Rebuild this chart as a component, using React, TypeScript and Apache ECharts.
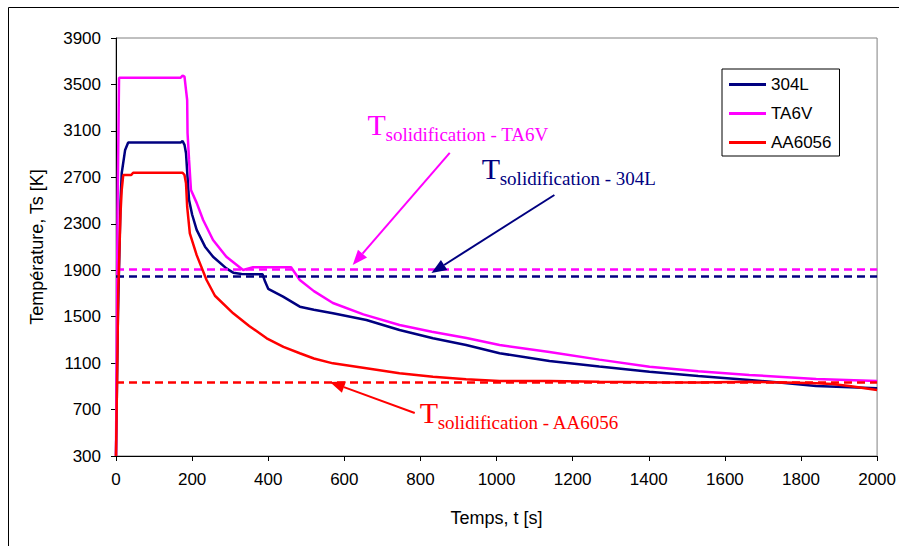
import React, { useEffect, useRef } from "react";
import * as echarts from "echarts";

// ---- Data ----
const time304L = [0, 5, 12, 15, 24, 32, 170, 175, 180, 184, 188, 192, 200, 212, 234, 255, 290, 308, 330, 385, 392, 400, 439, 483, 520, 570, 658, 745, 833, 920, 1008, 1139, 1270, 1402, 1530, 1664, 1750, 1840, 2000];
const temp304L = [300, 1500, 2500, 2735, 2936, 3000, 3000, 3012, 2980, 2907, 2700, 2505, 2380, 2247, 2103, 2016, 1916, 1879, 1868, 1865, 1800, 1740, 1672, 1586, 1560, 1529, 1471, 1385, 1314, 1256, 1185, 1118, 1070, 1026, 990, 955, 930, 903, 883];

const timeTA6V = [0, 4, 8, 170, 175, 180, 184, 187, 188, 192, 197, 212, 229, 255, 290, 334, 360, 460, 483, 520, 570, 650, 745, 830, 921, 1008, 1139, 1270, 1402, 1530, 1664, 1840, 2000];
const tempTA6V = [300, 2400, 3558, 3558, 3575, 3567, 3452, 3366, 3082, 2850, 2591, 2480, 2333, 2160, 2016, 1902, 1925, 1925, 1816, 1720, 1618, 1520, 1428, 1370, 1316, 1256, 1196, 1130, 1069, 1030, 998, 963, 946];

const timeAA6056 = [0, 3, 6, 12, 15, 19, 40, 45, 175, 180, 184, 187, 194, 212, 238, 260, 308, 350, 396, 440, 483, 520, 570, 658, 745, 833, 920, 1008, 1139, 1270, 1402, 1530, 1664, 1840, 1882, 1927, 2000];
const tempAA6056 = [300, 1000, 1730, 2400, 2590, 2720, 2720, 2740, 2740, 2720, 2648, 2447, 2218, 2030, 1816, 1680, 1529, 1420, 1314, 1240, 1185, 1140, 1098, 1055, 1012, 983, 960, 946, 946, 940, 935, 933, 940, 926, 920, 903, 868];

const seriesNames = ["304L", "TA6V", "AA6056"];
const solidusTemps = [1850, 1910, 935];
const annotationLabels = ["solidification - 304L", "solidification - TA6V", "solidification - AA6056"];
// annotation anchors in data coordinates: text anchor, arrow start, arrow end
const annotationText = [[961, 2651], [661, 3030], [798, 547]];
const arrowFrom = [[1152, 2548], [877, 2910], [785, 670]];
const arrowTo = [[829, 1876], [622, 1945], [562, 937]];

const colors = ["#000080", "#FF00FF", "#FF0000"];

const pairs = (t: number[], v: number[]) => t.map((x, i) => [x, v[i]]);
const allTimes = [time304L, timeTA6V, timeAA6056];
const allTemps = [temp304L, tempTA6V, tempAA6056];

export default function App() {
  const ref = useRef<HTMLDivElement>(null);
  useEffect(() => {
    if (!ref.current) return;
    const chart = echarts.init(ref.current, null, { renderer: "svg" });
    const sans = '"Liberation Sans", Arial, sans-serif';
    const plain = (v: number) => String(v);
    chart.setOption({
      animation: false,
      backgroundColor: "#fff",
      grid: {
        left: 116,
        right: 21,
        top: 38,
        bottom: 90,
        show: true,
        borderColor: "#808080",
        borderWidth: 1,
        backgroundColor: "transparent",
      },
      legend: {
        data: seriesNames,
        orient: "vertical",
        left: 722,
        top: 69,
        padding: [7, 8, 5, 7],
        itemGap: 12,
        itemWidth: 37,
        itemHeight: 3,
        icon: "rect",
        borderColor: "#000",
        borderWidth: 1,
        backgroundColor: "#fff",
        textStyle: { fontFamily: sans, fontSize: 17, color: "#000", padding: [0, 0, 0, 0] },
      },
      xAxis: {
        type: "value",
        min: 0,
        max: 2000,
        interval: 200,
        name: "Temps, t [s]",
        nameLocation: "middle",
        nameGap: 53,
        nameTextStyle: { fontFamily: sans, fontSize: 18, color: "#000" },
        axisLine: { lineStyle: { color: "#000", width: 1 } },
        axisTick: { show: true, length: 5, lineStyle: { color: "#000" } },
        axisLabel: { fontFamily: sans, fontSize: 17, color: "#000", margin: 15, formatter: plain },
        splitLine: { show: false },
      },
      yAxis: {
        type: "value",
        min: 300,
        max: 3900,
        interval: 400,
        name: "Température, Ts [K]",
        nameLocation: "middle",
        nameGap: 70,
        nameTextStyle: { fontFamily: sans, fontSize: 18, color: "#000" },
        axisLine: { show: true, lineStyle: { color: "#000", width: 1 } },
        axisTick: { show: true, length: 5, lineStyle: { color: "#000" } },
        axisLabel: { fontFamily: sans, fontSize: 17, color: "#000", margin: 15, formatter: plain },
        splitLine: { show: false },
      },
      series: seriesNames.map((name, i) => ({
        name,
        type: "line",
        data: pairs(allTimes[i], allTemps[i]),
        showSymbol: false,
        symbol: "none",
        color: colors[i],
        lineStyle: { color: colors[i], width: 2.5 },
        z: 3 + i,
        markLine: {
          silent: true,
          symbol: ["none", "none"],
          label: { show: false },
          lineStyle: { color: colors[i], type: [8, 5], width: 2.5 },
          data: [{ yAxis: solidusTemps[i] }],
        },
      })),
    });

    const toPx = (p: number[]) => chart.convertToPixel({ gridIndex: 0 }, p) as number[];
    const graphics: any[] = [
      {
        type: "rect",
        shape: { x: 8.5, y: 7.5, width: 900, height: 560 },
        style: { fill: "none", stroke: "#000", lineWidth: 1 },
        silent: true,
        z: 0,
      },
    ];
    const headLen = 15;
    const headHalf = 6;
    seriesNames.forEach((_, i) => {
      const c = colors[i];
      const a = toPx(arrowFrom[i]);
      const b = toPx(arrowTo[i]);
      const dx = b[0] - a[0];
      const dy = b[1] - a[1];
      const len = Math.sqrt(dx * dx + dy * dy);
      const ux = dx / len;
      const uy = dy / len;
      const bx = b[0] - ux * headLen;
      const by = b[1] - uy * headLen;
      graphics.push({
        type: "line",
        shape: { x1: a[0], y1: a[1], x2: bx, y2: by },
        style: { stroke: c, lineWidth: 2 },
        z: 100,
      });
      graphics.push({
        type: "polygon",
        shape: {
          points: [
            [b[0], b[1]],
            [bx - uy * headHalf, by + ux * headHalf],
            [bx + uy * headHalf, by - ux * headHalf],
          ],
        },
        style: { fill: c },
        z: 100,
      });
      const t = toPx(annotationText[i]);
      graphics.push({
        type: "text",
        x: t[0],
        y: t[1],
        style: {
          text: "T",
          fill: c,
          font: '30px "Liberation Serif", "Times New Roman", serif',
          align: "left",
          verticalAlign: "bottom",
        },
        z: 100,
      });
      graphics.push({
        type: "text",
        x: t[0] + 18,
        y: t[1] + 5,
        style: {
          text: annotationLabels[i],
          fill: c,
          font: '19px "Liberation Serif", "Times New Roman", serif',
          align: "left",
          verticalAlign: "bottom",
        },
        z: 100,
      });
    });
    chart.setOption({ graphic: graphics });

    return () => chart.dispose();
  }, []);

  return (
    <div
      ref={ref}
      style={{ position: "fixed", left: 0, top: 0, width: 899, height: 546 }}
    />
  );
}
